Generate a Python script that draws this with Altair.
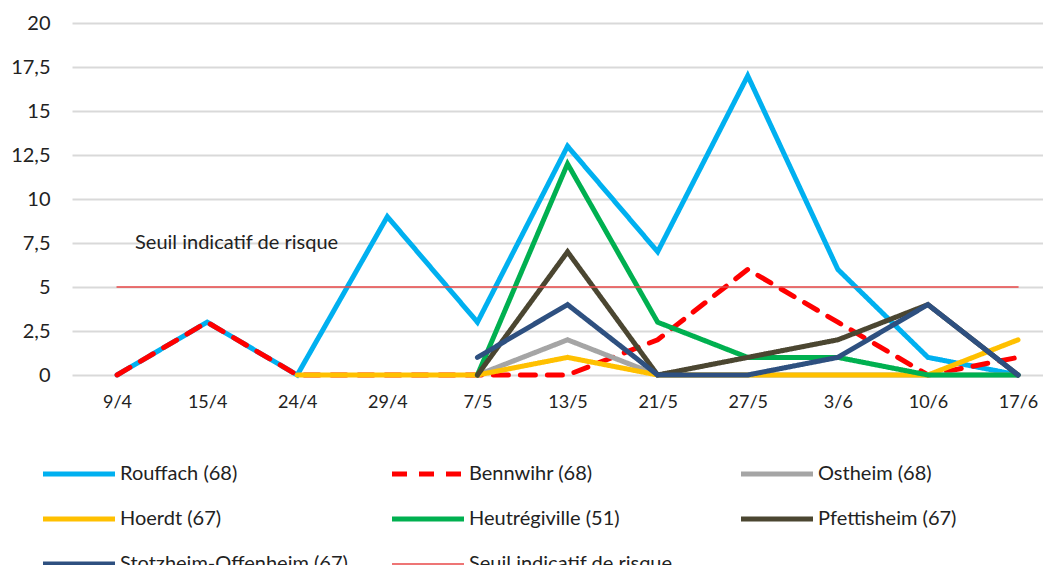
import json
import altair as alt
import pandas as pd

dates = ["9/4", "15/4", "24/4", "29/4", "7/5", "13/5", "21/5", "27/5", "3/6", "10/6", "17/6"]
series = ["Rouffach (68)", "Bennwihr (68)", "Ostheim (68)", "Hoerdt (67)",
          "Heutrégiville (51)", "Pfettisheim (67)", "Stotzheim-Offenheim (67)",
          "Seuil indicatif de risque"]
rouffach = [0, 3, 0, 9, 3, 13, 7, 17, 6, 1, 0]
bennwihr = [0, 3, 0, 0, 0, 0, 2, 6, 3, 0, 1]
ostheim = [None, None, None, None, 0, 2, 0, 0, 0, 0, 0]
hoerdt = [None, None, 0, 0, 0, 1, 0, 0, 0, 0, 2]
heutregiville = [None, None, None, None, 0, 12, 3, 1, 1, 0, 0]
pfettisheim = [None, None, None, None, 0, 7, 0, 1, 2, 4, 0]
stotzheim = [None, None, None, None, 1, 4, 0, 0, 1, 4, 0]
seuil = [5, 5, 5, 5, 5, 5, 5, 5, 5, 5, 5]
y_ticks = [0, 2.5, 5, 7.5, 10, 12.5, 15, 17.5, 20]

colors = ["#00B0F0", "#FF0000", "#A5A5A5", "#FFC000", "#00B050", "#4B4631", "#2E5080", "#E94848"]
dashes = [[1, 0], [15, 12], [1, 0], [1, 0], [1, 0], [1, 0], [1, 0], [1, 0]]
widths = [5, 5, 5, 5, 5, 5, 5, 1.5]

all_vals = [rouffach, bennwihr, ostheim, hoerdt, heutregiville, pfettisheim, stotzheim, seuil]
rows = []
for s, vals in zip(series, all_vals):
    for i, v in enumerate(vals):
        if v is not None:
            rows.append({"idx": i, "date": dates[i], "series": s, "value": v})
df = pd.DataFrame(rows)

FONT = "Lato"
label_expr = json.dumps(dates) + "[datum.value]"

x = alt.X("idx:Q",
          scale=alt.Scale(domain=[-0.5, 10.277], nice=False, zero=False),
          axis=alt.Axis(values=list(range(len(dates))), labelExpr=label_expr,
                        grid=False, ticks=False, domain=False, title=None,
                        labelFont=FONT, labelFontSize=18, labelColor="#222222",
                        labelPadding=18, labelFlush=False))
y = alt.Y("value:Q",
          scale=alt.Scale(domain=[0, 20], nice=False),
          axis=alt.Axis(values=y_ticks, labelExpr="replace(toString(datum.value), '.', ',')",
                        grid=True, gridColor="#D9D9D9", gridWidth=2,
                        ticks=False, domain=False, title=None,
                        labelFont=FONT, labelFontSize=20, labelColor="#222222",
                        labelPadding=22))

lines = alt.Chart(df).mark_line(strokeCap="round").encode(
    x=x,
    y=y,
    color=alt.Color("series:N", scale=alt.Scale(domain=series, range=colors),
                    legend=alt.Legend(title=None, orient="none", legendX=-3, legendY=441,
                                      direction="horizontal",
                                      columns=3, symbolType="M-6,0H6", symbolSize=144,
                                      labelOffset=31, labelFont=FONT, labelFontSize=20,
                                      labelColor="#222222", rowPadding=25,
                                      columnPadding=34, gridAlign="all", padding=0,
                                      labelLimit=400)),
    strokeDash=alt.StrokeDash("series:N", scale=alt.Scale(domain=series, range=dashes)),
    strokeWidth=alt.StrokeWidth("series:N", scale=alt.Scale(type="ordinal", domain=series, range=widths)),
    detail="series:N",
)

note = alt.Chart(pd.DataFrame({"idx": [0.2], "value": [7.5], "label": ["Seuil indicatif de risque"]})).mark_text(
    align="left", baseline="middle", font=FONT, fontSize=20, color="#222222"
).encode(x="idx:Q", y="value:Q", text="label:N")

chart = alt.layer(lines, note).properties(
    width=971, height=352,
    autosize="none",
    padding={"left": 64, "top": 15, "right": 0, "bottom": 190},
).configure_view(stroke=None)

chart.save("out.html", embed_options={"renderer": "svg", "actions": False})
